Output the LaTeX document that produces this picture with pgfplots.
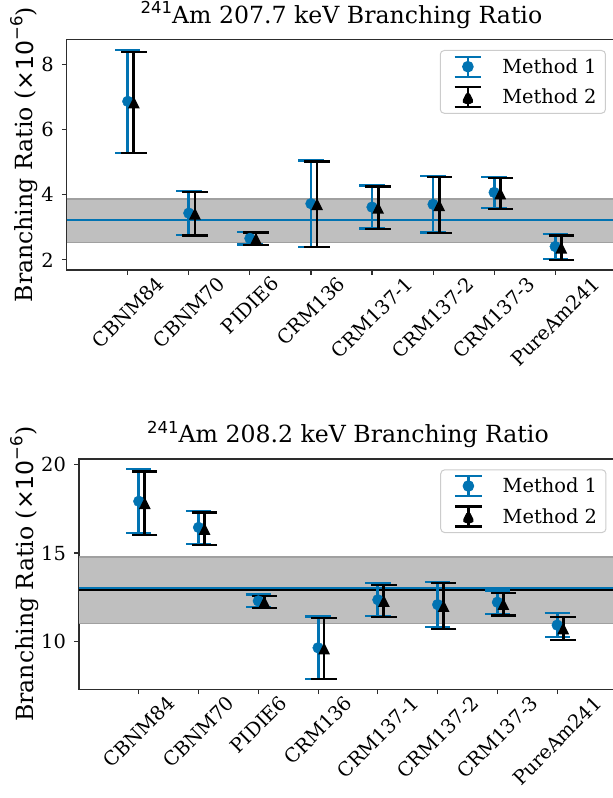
\documentclass[border=0pt]{standalone}
\usepackage{fontspec}
\setmainfont{DejaVu Serif}
\newfontfamily\msans{DejaVu Sans}
\usepackage{graphicx}
\usepackage{pgfplots}
\pgfplotsset{compat=1.18}
\usepackage{pgfplotstable}

\definecolor{c1}{RGB}{1,115,178}
\definecolor{bandfill}{RGB}{191,191,191}
\definecolor{bandedge}{RGB}{160,160,160}
\definecolor{spine}{RGB}{45,45,45}

\newcommand{\tfont}{\fontsize{23.6}{28}\selectfont}
\newcommand{\kfont}{\fontsize{19.4}{23}\selectfont}
\newcommand{\rot}[1]{\rotatebox{45}{#1}}
\newcommand{\supr}[1]{\raisebox{0.42em}{\msans\fontsize{16.5}{16.5}\selectfont #1}}

\pgfdeclareplotmark{mtri}{%
  \pgfpathmoveto{\pgfqpoint{0pt}{\pgfplotmarksize}}%
  \pgfpathlineto{\pgfqpoint{-\pgfplotmarksize}{-\pgfplotmarksize}}%
  \pgfpathlineto{\pgfqpoint{\pgfplotmarksize}{-\pgfplotmarksize}}%
  \pgfpathclose\pgfusepathqfill}

\pgfplotstableread{
x y1 e1 y2 e2
0 6.865 1.575 6.83 1.56
1 3.435 0.675 3.42 0.67
2 2.66 0.19 2.65 0.19
3 3.725 1.325 3.71 1.31
4 3.62 0.66 3.60 0.65
5 3.705 0.865 3.68 0.86
6 4.07 0.48 4.04 0.47
7 2.41 0.38 2.375 0.375
}\topdata

\pgfplotstableread{
x y1 e1 y2 e2
0 17.915 1.805 17.81 1.78
1 16.44 0.93 16.36 0.93
2 12.295 0.355 12.235 0.355
3 9.65 1.76 9.61 1.72
4 12.36 0.93 12.285 0.915
5 12.085 1.275 12.01 1.28
6 12.22 0.66 12.12 0.64
7 10.93 0.67 10.74 0.65
}\botdata

\pgfplotsset{
  myaxis/.style={
    scale only axis, anchor=south west,
    xmin=-1, xmax=8,
    xtick={0,...,7},
    xticklabels={\rot{CBNM84},\rot{CBNM70},\rot{PIDIE6},\rot{CRM136},\rot{CRM137-1},\rot{CRM137-2},\rot{CRM137-3},\rot{PureAm241}},
    xtick pos=left, ytick pos=left,
    tick align=outside,
    major tick length=4.9pt,
    every tick/.style={spine, line width=1.1pt},
    axis line style={spine, line width=1.1pt},
    ticklabel style={font=\kfont},
    xticklabel style={anchor=north, inner sep=0pt},
    yticklabel style={anchor=east, inner sep=0pt, xshift=-8pt},
    /pgf/number format/assume math mode=true,
    title style={font=\tfont, at={(rel axis cs:0.5,1)}, anchor=base, yshift=10pt},
    legend cell align=left,
    legend style={at={(rel axis cs:1,1)}, anchor=north east, draw=black!20, line width=1pt,
      rounded corners=4pt, fill=white, font=\kfont, inner xsep=7pt, inner ysep=5pt, row sep=8pt},
  },
  m1leg/.style={legend image code/.code={
    \path[draw=none, fill=none] (0pt,0pt) -- (53pt,0pt);
    \draw[c1, line width=2.4pt] (20.65pt,-10pt) -- (20.65pt,10pt);
    \draw[c1, line width=2.3pt] (7.3pt,-10pt) -- (34pt,-10pt);
    \draw[c1, line width=2.3pt] (7.3pt,10pt) -- (34pt,10pt);
    \fill[c1] (20.65pt,0pt) circle (5.3pt);
  }},
  m2leg/.style={legend image code/.code={
    \path[draw=none, fill=none] (0pt,0pt) -- (53pt,0pt);
    \draw[black, line width=2.4pt] (20.65pt,-10pt) -- (20.65pt,10pt);
    \draw[black, line width=2.3pt] (7.3pt,-10pt) -- (34pt,-10pt);
    \draw[black, line width=2.3pt] (7.3pt,10pt) -- (34pt,10pt);
    \fill[black] (20.65pt,6.2pt) -- (14.45pt,-6.2pt) -- (26.85pt,-6.2pt) -- cycle;
  }},
  m1err/.style={error bars/.cd, y dir=both, y explicit, error bar style={line width=2.8pt, c1},
    error mark options={c1, rotate=90, mark size=12.7pt, line width=2.3pt}},
  m2err/.style={error bars/.cd, y dir=both, y explicit, error bar style={line width=2.8pt, black},
    error mark options={black, rotate=90, mark size=12.7pt, line width=2.3pt}},
}

\begin{document}
\begin{tikzpicture}
% ---------------- top ----------------
\begin{axis}[myaxis,
  at={(66.7pt,528pt)}, width=549.6pt, height=230.7pt,
  ymin=1.69, ymax=8.77, ytick={2,4,6,8},
  title={\supr{241}Am 207.7 keV Branching Ratio},
  every axis y label/.style={at={(rel axis cs:0,0.5)}, xshift=-33.7pt, rotate=90, anchor=base, font=\tfont},
  ylabel={Branching Ratio ({\msans ×10\raisebox{0.45em}{\fontsize{16.5}{16.5}\selectfont −6}})},
  legend style={xshift=-10.3pt, yshift=-10.7pt},
]
\addplot[draw=none, fill=bandfill, forget plot] coordinates {(-1,2.53) (8,2.53) (8,3.87) (-1,3.87)} -- cycle;
\addplot[bandedge, line width=1.3pt, forget plot] coordinates {(-1,2.53) (8,2.53)};
\addplot[bandedge, line width=1.3pt, forget plot] coordinates {(-1,3.87) (8,3.87)};
\addplot[black, line width=2.4pt, forget plot] coordinates {(-1,3.22) (8,3.22)};
\addplot[c1, line width=2.4pt, forget plot] coordinates {(-1,3.23) (8,3.23)};
\addplot[c1, only marks, mark=*, mark size=5.4pt, mark options={draw=c1, fill=c1}, m1leg, m1err]
  table[x=x, y=y1, y error=e1] {\topdata};
\addlegendentry{Method 1}
\addplot[black, only marks, mark=mtri, mark size=5.9pt, mark options={fill=black}, m2leg, m2err]
  table[x expr=\thisrow{x}+0.1, y=y2, y error=e2] {\topdata};
\addlegendentry{Method 2}
\end{axis}
% ---------------- bottom ----------------
\begin{axis}[myaxis,
  at={(79pt,108.7pt)}, width=538pt, height=230.3pt,
  ymin=7.31, ymax=20.3, ytick={10,15,20},
  title={\supr{241}Am 208.2 keV Branching Ratio},
  every axis y label/.style={at={(rel axis cs:0,0.5)}, xshift=-46pt, rotate=90, anchor=base, font=\tfont},
  ylabel={Branching Ratio ({\msans ×10\raisebox{0.45em}{\fontsize{16.5}{16.5}\selectfont −6}})},
  legend style={xshift=-10.5pt, yshift=-10.3pt},
]
\addplot[draw=none, fill=bandfill, forget plot] coordinates {(-1,11.03) (8,11.03) (8,14.77) (-1,14.77)} -- cycle;
\addplot[bandedge, line width=1.3pt, forget plot] coordinates {(-1,11.03) (8,11.03)};
\addplot[bandedge, line width=1.3pt, forget plot] coordinates {(-1,14.77) (8,14.77)};
\addplot[black, line width=2.4pt, forget plot] coordinates {(-1,12.91) (8,12.91)};
\addplot[c1, line width=2.4pt, forget plot] coordinates {(-1,13.01) (8,13.01)};
\addplot[c1, only marks, mark=*, mark size=5.4pt, mark options={draw=c1, fill=c1}, m1leg, m1err]
  table[x=x, y=y1, y error=e1] {\botdata};
\addlegendentry{Method 1}
\addplot[black, only marks, mark=mtri, mark size=5.9pt, mark options={fill=black}, m2leg, m2err]
  table[x expr=\thisrow{x}+0.1, y=y2, y error=e2] {\botdata};
\addlegendentry{Method 2}
\end{axis}
\pgfresetboundingbox
\useasboundingbox (0pt,0pt) rectangle (613pt,798pt);
\end{tikzpicture}
\end{document}
